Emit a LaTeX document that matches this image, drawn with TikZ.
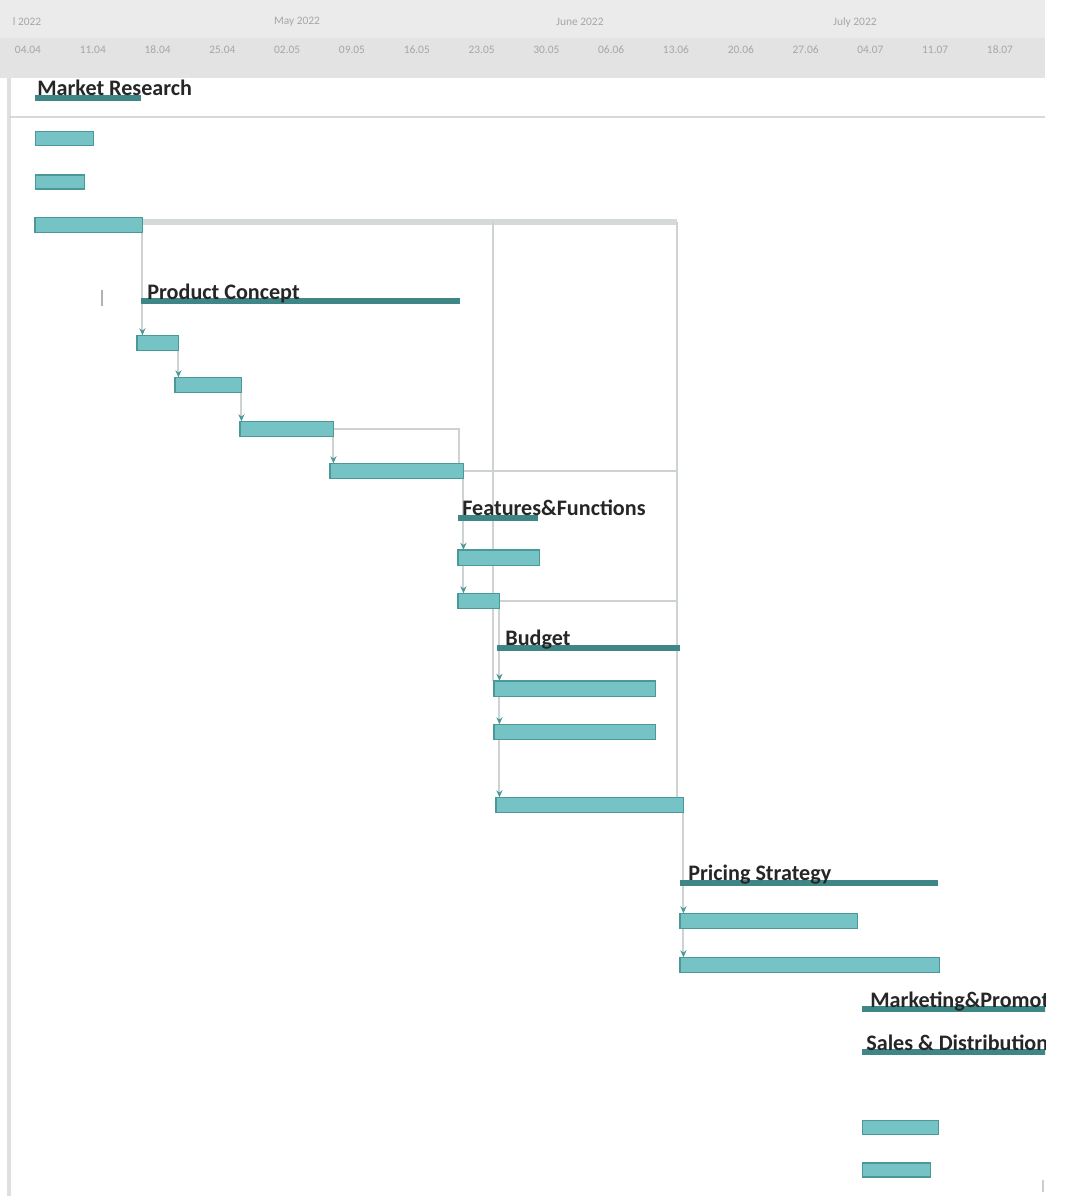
\documentclass[tikz,border=0pt]{standalone}
\usepackage{fontspec}
\setmainfont{Carlito}
\usetikzlibrary{arrows,arrows.meta,positioning}
\definecolor{barfill}{HTML}{76C3C6}
\definecolor{barline}{HTML}{4A9898}
\definecolor{sumbar}{HTML}{3F8686}
\definecolor{linkgray}{HTML}{CDD2D2}
\definecolor{headtop}{HTML}{EBEBEB}
\definecolor{headlow}{HTML}{E3E3E3}
\definecolor{headtext}{HTML}{A6A6A6}
\definecolor{labeltext}{HTML}{262626}

\begin{document}
\begin{tikzpicture}[x=0.02cm, y=-0.02cm,
	task/.style={draw=barline, fill=barfill, line width=0.8pt, inner sep=0pt,
		minimum height=14*0.02cm, minimum width=#1*0.02cm, anchor=west},
	summary/.style={fill=sumbar, inner sep=0pt, minimum height=6*0.02cm,
		minimum width=#1*0.02cm, anchor=west},
	tasklabel/.style={font=\bfseries\fontsize{12.6}{14}\selectfont, text=labeltext,
		inner sep=0pt, anchor=base west},
	headlbl/.style={font=\fontsize{6.5}{8}\selectfont, text=headtext, inner sep=0pt},
	link/.style={draw=linkgray, line width=1.2pt},
	dep/.style={link, -{Stealth[length=4pt, width=3.5pt, color=barline]}}]
	\useasboundingbox (0,0) rectangle (1076,1196);

	% timeline header
	\fill[headtop] (0,0) rectangle (1045,38);
	\fill[headlow] (0,38) rectangle (1045,78);
	\node[headlbl] (mon0) at (27,22) {l 2022};
	\node[headlbl] (mon1) at (297,22) {May 2022};
	\node[headlbl] (mon2) at (580,22) {June 2022};
	\node[headlbl] (mon3) at (855,22) {July 2022};
	\foreach \wk [count=\i from 0] in {04.04,11.04,18.04,25.04,02.05,09.05,16.05,23.05,
		30.05,06.06,13.06,20.06,27.06,04.07,11.07,18.07}
		\node[headlbl] (wk\i) at ({28+64.8*\i},50) {\wk};

	\draw[gray!25, line width=2pt] (9,78) -- (9,1196);
	\draw[gray!30, line width=1.5pt] (9,117) -- (1045,117);
	\draw[gray!40, line width=1.5pt] (1043,1180) -- (1043,1192);
	\draw[gray!60, line width=1pt] (102,290) -- (102,306);

	% bars
	\node[task=58] (task1) at (35,138.5) {};
	\node[task=49] (task2) at (35,182) {};
	\node[task=106] (task3) at (35,225) {};
	\node[task=40] (pc1) at (137,343) {};
	\node[task=65] (pc2) at (175,385) {};
	\node[task=92] (pc3) at (240,429) {};
	\node[task=132] (pc4) at (330,471) {};
	\node[task=80] (ff1) at (458,557.5) {};
	\node[task=40] (ff2) at (458,601) {};
	\node[task=160] (b1) at (494,688.5) {};
	\node[task=160] (b2) at (494,732) {};
	\node[task=186] (b3) at (496,805) {};
	\node[task=176] (ps1) at (680,921) {};
	\node[task=258] (ps2) at (680,965) {};
	\node[task=76] (ms1) at (862,1127.5) {};
	\node[task=68] (ms2) at (862,1170) {};

	% links
	\coordinate (rgt) at (677,222);
	\coordinate (mid) at (493,222);
	\draw[link, line width=3pt, draw=linkgray!85] (task3.east |- rgt) -- (rgt);
	\draw[link] (rgt) -- (rgt |- b3.north);
	\draw[link] (mid) -- (mid |- b1.north);
	\draw[link] (pc4.east) -- (pc4.east -| rgt);
	\draw[link] (ff2.east) -- (ff2.east -| rgt);
	\draw[link] (pc3.east) -| ([xshift=-0.08cm]pc4.north east);
	\draw[dep] (task3.south east) -- (task3.south east |- pc1.north);
	\draw[dep] (pc1.south east) -- (pc1.south east |- pc2.north);
	\draw[dep] (pc2.south east) -- (pc2.south east |- pc3.north);
	\draw[dep] (pc3.south east) -- (pc3.south east |- pc4.north);
	\draw[dep] (pc4.south east) -- (pc4.south east |- ff1.north);
	\draw[dep] (pc4.south east |- ff1.south) -- (pc4.south east |- ff2.north);
	\draw[dep] (ff2.south east) -- (ff2.south east |- b1.north);
	\draw[dep] (ff2.south east |- b1.south) -- (ff2.south east |- b2.north);
	\draw[dep] (ff2.south east |- b2.south) -- (ff2.south east |- b3.north);
	\draw[dep] (b3.south east) -- (b3.south east |- ps1.north);
	\draw[dep] (b3.south east |- ps1.south) -- (b3.south east |- ps2.north);

	% redraw bars over the links
	\foreach \b in {task3,pc1,pc2,pc3,pc4,ff1,ff2,b1,b2,b3,ps1,ps2}
		\draw[barline, fill=barfill, line width=0.8pt] (\b.south west) rectangle (\b.north east);

	% summary rows
	\node[summary=106] (mrsum) at (35,98) {};
	\node[tasklabel] (mrlbl) at (37,96) {Market Research};
	\node[summary=319] (pcsum) at (141,301) {};
	\node[tasklabel] (pclbl) at (147,299) {Product Concept};
	\node[summary=80] (ffsum) at (458,518) {};
	\node[tasklabel] (fflbl) at (462,515) {Features\&Functions};
	\node[summary=183] (bsum) at (497,648) {};
	\node[tasklabel] (blbl) at (505,645) {Budget};
	\node[summary=258] (pssum) at (680,883) {};
	\node[tasklabel] (pslbl) at (688,880) {Pricing Strategy};
	\begin{scope}
		\clip (0,0) rectangle (1045,1196);
		\node[summary=200] (mpsum) at (862,1009) {};
		\node[tasklabel] (mplbl) at (870,1007) {Marketing\&Promotion};
		\node[summary=200] (sdsum) at (862,1052) {};
		\node[tasklabel] (sdlbl) at (866,1050) {Sales \& Distribution};
	\end{scope}
\end{tikzpicture}
\end{document}
